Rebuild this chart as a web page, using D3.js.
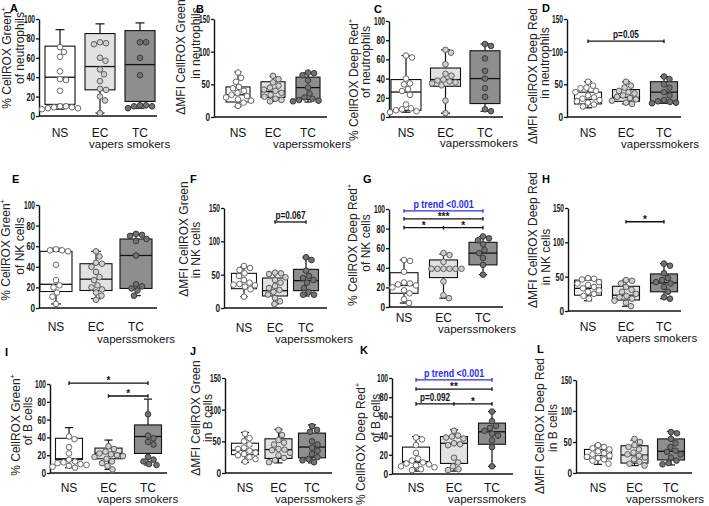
<!DOCTYPE html>
<html><head><meta charset="utf-8">
<script src="https://cdn.jsdelivr.net/npm/d3@7"></script>
<style>body{margin:0;background:#fff}svg{display:block}</style>
</head><body>
<svg id="c" width="709" height="506"></svg>
<script>
// ---------- DATA ----------
const categories = ["NS", "EC", "TC"];
const ticksPct = [0, 20, 40, 60, 80, 100];
const ticksMfi = [0, 50, 100, 150];

// box stats per group: [whiskerMin, q1, median, q3, whiskerMax]
const boxA = [[7,12,40,72,89],[3,27,51,85,95],[8,15,53,88,96]];
const boxB = [[16,23,34,46,69],[24,30,39,54,62],[23,27,45,61,68]];
const boxC = [[5,7,26,39,64],[4,32,39,51,70],[6,14,40,69,76]];
const boxD = [[14,20,27,38,54],[20,24,30,42,54],[21,23,38,54,62]];
const boxE = [[4,16,23,55,58],[9,17,28,43,55],[12,19,51,67,72]];
const boxF = [[17,29,35,52,62],[6,18,26,45,52],[18,26,41,58,76]];
const boxG = [[4,14,22,35,48],[9,30,39,48,54],[33,43,55,66,72]];
const boxH = [[15,23,33,45,48],[7,16,23,36,45],[18,28,41,54,69]];
const boxI = [[6,15,16,39,51],[4,16,22,28,37],[9,22,41,54,83]];
const boxJ = [[17,29,36,47,64],[16,23,37,54,69],[16,24,41,63,76]];
const boxK = [[3,12,13,28,39],[3,11,32,39,46],[8,31,44,53,65]];
const boxL = [[14,23,28,38,45],[12,16,29,44,53],[13,21,35,55,67]];

// individual subjects per group [NS, EC, TC]
const ptsA = [[71,66,61,46,38,37,26,10,10,9,9,8,8,7],[76,75,74,60,57,48,43,36,28,27,20,16,3],[76,76,60,42,11,11,10,10,8]];
const ptsB = [[68,60,54,46,44,40,37,34,32,30,27,25,22,17],[63,58,53,48,45,42,40,37,34,31,28,26,24],[68,67,64,56,45,36,30,28,26,25,24]];
const ptsC = [[64,62,40,35,34,29,27,23,13,9,8,7,6,5],[70,67,55,45,43,39,38,37,36,35,33,17,4],[76,74,61,48,40,30,21,8,6]];
const ptsD = [[54,48,45,44,40,38,33,30,28,26,24,22,19,16],[54,48,45,40,38,36,33,31,29,27,25,22,20],[62,58,50,45,38,33,26,24,23,22,21]];
const ptsE = [[57,56,56,55,42,27,22,20,15,11,4],[55,50,44,43,40,35,30,27,22,20,18,15,12,8],[72,71,70,67,65,51,23,21,19,17,12]];
const ptsF = [[63,60,57,52,48,42,38,36,35,34,32,28,17],[53,52,51,46,42,38,33,30,27,24,20,15,10,6],[76,72,56,48,45,42,38,30,24,20,20]];
const ptsG = [[48,47,36,25,24,23,22,20,17,14,8,4],[55,53,46,39,39,39,39,39,39,26,12,9],[72,70,68,64,58,55,50,43,33]];
const ptsH = [[48,47,46,42,40,38,35,33,30,28,25,22,18],[45,44,40,35,31,28,25,22,20,18,15,12,7],[69,66,55,48,45,42,40,35,28,20,18]];
const ptsI = [[41,38,29,22,15,13,12,11,10,9,8,7,6],[30,27,24,22,21,20,19,18,16,13,11,8,4],[66,42,39,35,32,18,15,13,10,9]];
const ptsJ = [[62,55,50,45,40,38,35,32,30,28,25,22,18],[68,60,52,48,45,38,37,36,32,28,24,20,17],[74,68,65,50,45,40,35,30,25,22,20,17]];
const ptsK = [[38,36,30,22,16,14,12,11,10,9,8,7,5,4],[45,40,39,38,37,32,31,30,17,12,8,5,4],[65,55,50,48,45,42,40,35,28,8]];
const ptsL = [[45,42,40,38,35,32,30,28,26,24,22,20,15],[55,50,45,42,38,33,30,28,25,22,18,15,12],[66,64,55,48,42,36,34,30,25,20,16,14]];

// axis titles: [line1, superscript, line2]
const labelA = ["% CellROX Green", "+", "of neutrophils"];
const labelB = ["\u0394MFI CellROX Green", "", "in neutrophils"];
const labelC = ["% CellROX Deep Red", "+", "of neutrophils"];
const labelD = ["\u0394MFI CellROX Deep Red", "", "in neutrophils"];
const labelE = ["% CellROX Green", "+", "of NK cells"];
const labelF = ["\u0394MFI CellROX Green", "", "in NK cells"];
const labelG = ["% CellROX Deep Red", "+", "of NK cells"];
const labelH = ["\u0394MFI CellROX Deep Red", "", "in NK cells"];
const labelI = ["% CellROX Green", "+", "of B cells"];
const labelJ = ["\u0394MFI CellROX Green", "", "in B cells"];
const labelK = ["% CellROX Deep Red", "+", "of B cells"];
const labelL = ["\u0394MFI CellROX Deep Red", "", "in B cells"];

// significance annotations: [fromGroup, toGroup, level (axis units), text(s), midGroup, kind]
const sigD = [[0,2,116,["p=0.05"]]];
const sigF = [[1,2,129,["p=0.067"]]];
const sigG = [[0,2,98,["p trend <0.001"],null,"trend"],[0,2,90,["***"]],[0,2,81,["*","*"],1]];
const sigH = [[1,2,130,["*"]]];
const sigI = [[0,2,101,["*"]],[1,2,86.5,["*"]]];
const sigK = [[0,2,98,["p trend <0.001"],null,"trend"],[0,2,88.5,["**"]],[0,2,73,["p=0.092","*"],1]];

const subA = "vapers smokers", subB = "vaperssmokers";

// ---------- LAYOUT (positions only) ----------
const panels = [
 {id:"A",box:boxA,pts:ptsA,ticks:ticksPct,label:labelA,sig:[],sub:subA,
  L:[10,12],ax:39,axEnd:157,yTop:19,yBot:116,c:[60,140],bw:30,catY:137,subX:89,subY:148,yl:[[6.5,58],[20,48]]},
 {id:"B",box:boxB,pts:ptsB,ticks:ticksMfi,label:labelB,sig:[],sub:subB,
  L:[196,13],ax:214,axEnd:327,yTop:19,yBot:117,c:[238,308],bw:24,catY:137,subX:273,subY:148,yl:[[181,57],[196,43]]},
 {id:"C",box:boxC,pts:ptsC,ticks:ticksPct,label:labelC,sig:[],sub:subB,
  L:[374,13],ax:389,axEnd:503,yTop:21,yBot:117,c:[406,485],bw:30,catY:137,subX:440,subY:147,yl:[[353.5,80],[366,62]]},
 {id:"D",box:boxD,pts:ptsD,ticks:ticksMfi,label:labelD,sig:sigD,sub:subB,
  L:[542,12],ax:567,axEnd:681,yTop:19,yBot:117,c:[588,664],bw:27,catY:137,subX:621,subY:148,yl:[[533,76],[545,63]]},
 {id:"E",box:boxE,pts:ptsE,ticks:ticksPct,label:labelE,sig:[],sub:subB,
  L:[12,183],ax:39,axEnd:157,yTop:205,yBot:308,c:[56,136],bw:32,catY:331,subX:97,subY:343,yl:[[6,250],[20,246]]},
 {id:"F",box:boxF,pts:ptsF,ticks:ticksMfi,label:labelF,sig:sigF,sub:subB,
  L:[190,183],ax:224,axEnd:327,yTop:208,yBot:308,c:[244,306],bw:25,catY:332,subX:275,subY:343,yl:[[184,239],[196,250]]},
 {id:"G",box:boxG,pts:ptsG,ticks:ticksPct,label:labelG,sig:sigG,sub:subB,
  L:[363,183],ax:389,axEnd:503,yTop:209,yBot:307,c:[404,483],bw:28,catY:322,subX:438,subY:333,yl:[[353,245],[366,243]]},
 {id:"H",box:boxH,pts:ptsH,ticks:ticksMfi,label:labelH,sig:sigH,sub:subA,
  L:[542,183],ax:568,axEnd:681,yTop:208,yBot:311,c:[588,664],bw:27,catY:331,subX:616,subY:342,yl:[[533,240],[546,257]]},
 {id:"I",box:boxI,pts:ptsI,ticks:ticksPct,label:labelI,sig:sigI,sub:subA,
  L:[5,356],ax:50,axEnd:167,yTop:384,yBot:473,c:[69,148],bw:27,catY:492,subX:97,subY:503,yl:[[16,425],[28,421]]},
 {id:"J",box:boxJ,pts:ptsJ,ticks:ticksMfi,label:labelJ,sig:[],sub:subB,
  L:[190,355],ax:225,axEnd:332,yTop:378,yBot:473,c:[245,312],bw:27,catY:492,subX:275,subY:503,yl:[[196,418],[208,418]]},
 {id:"K",box:boxK,pts:ptsK,ticks:ticksPct,label:labelK,sig:sigK,sub:subB,
  L:[360,354],ax:392,axEnd:513,yTop:378,yBot:474,c:[416,492],bw:27,catY:492,subX:448,subY:503,yl:[[361,444],[376,418]]},
 {id:"L",box:boxL,pts:ptsL,ticks:ticksMfi,label:labelL,sig:[],sub:subB,
  L:[537,353],ax:576,axEnd:692,yTop:380,yBot:473,c:[598,671],bw:27,catY:492,subX:626,subY:503,yl:[[540,426],[553,428]]}
];

const boxFill = ["#ffffff", "#e2e2e2", "#8e8e8e"];
const ptFill = ["#ffffff", "#d0d0d0", "#727272"];
const ptStroke = ["#6a6a6a", "#5e5e5e", "#3a3a3a"];
const R = 2.8;
const FONT = "'Liberation Sans', Arial, sans-serif";
const NARROW = "'Liberation Sans Narrow', 'Liberation Sans', Arial, sans-serif";

const svg = d3.select("#c");

function swarm(vals, y, cx) {
  const placed = [];
  const order = vals.map((v, i) => ({v, i})).sort((a, b) => b.v - a.v);
  const res = new Array(vals.length);
  const minD = 2 * R + 0.4;
  for (const p of order) {
    const py = y(p.v);
    let chosen = cx;
    for (let k = 0; k < 200; k++) {
      const off = (k % 2 ? 1 : -1) * Math.ceil(k / 2) * 0.5;
      const px = cx + off;
      if (placed.every(q => Math.hypot(q.x - px, q.y - py) >= minD)) { chosen = px; break; }
    }
    placed.push({x: chosen, y: py});
    res[p.i] = {x: chosen, y: py, v: p.v};
  }
  return res;
}

panels.forEach(P => {
  const g = svg.append("g");
  const maxV = d3.max(P.ticks);
  const y = d3.scaleLinear().domain([0, maxV]).range([P.yBot, P.yTop]);
  const x = d3.scalePoint().domain(categories).range(P.c);

  g.append("text").attr("x", P.L[0]).attr("y", P.L[1]).text(P.id)
    .attr("font-family", FONT).attr("font-weight", "bold").attr("font-size", 11);

  const ya = d3.axisLeft(y).tickValues(P.ticks).tickSize(3).tickSizeOuter(0).tickPadding(1);
  const yg = g.append("g").attr("transform", `translate(${P.ax},0)`).call(ya);
  yg.select(".domain").attr("stroke", "#111").attr("stroke-width", 1.4);
  yg.selectAll(".tick line").attr("stroke", "#111").attr("stroke-width", 1.3);
  yg.selectAll(".tick text").attr("font-family", NARROW).attr("font-weight", "bold")
    .attr("font-size", 11).attr("fill", "#111")
    .attr("textLength", d => ({1: 4.6, 2: 8.4, 3: 11})[String(d).length])
    .attr("lengthAdjust", "spacingAndGlyphs");

  g.append("line").attr("x1", P.ax).attr("x2", P.axEnd).attr("y1", P.yBot).attr("y2", P.yBot)
    .attr("stroke", "#111").attr("stroke-width", 1.4);

  categories.forEach(cat => {
    g.append("text").attr("x", x(cat)).attr("y", P.catY).attr("text-anchor", "middle")
      .attr("font-family", FONT).attr("font-size", 12).attr("fill", "#111").text(cat);
  });
  g.append("text").attr("x", P.subX).attr("y", P.subY)
    .attr("font-family", FONT).attr("font-size", 11.5).attr("fill", "#111").text(P.sub);

  const t1 = g.append("text").attr("transform", `translate(${P.yl[0][0]},${P.yl[0][1]}) rotate(-90)`)
    .attr("text-anchor", "middle").attr("dominant-baseline", "central")
    .attr("font-family", FONT).attr("font-size", 12).attr("fill", "#222");
  t1.append("tspan").text(P.label[0]);
  if (P.label[1]) t1.append("tspan").attr("baseline-shift", "super").attr("font-size", 7).text(P.label[1]);
  g.append("text").attr("transform", `translate(${P.yl[1][0]},${P.yl[1][1]}) rotate(-90)`)
    .attr("text-anchor", "middle").attr("dominant-baseline", "central")
    .attr("font-family", FONT).attr("font-size", 12).attr("fill", "#222").text(P.label[2]);

  categories.forEach((cat, gi) => {
    const b = P.box[gi];
    const cx = x(cat), hw = P.bw / 2, cap = Math.max(3.5, P.bw * 0.15);
    const bg = g.append("g");
    bg.append("line").attr("x1", cx).attr("x2", cx).attr("y1", y(b[4])).attr("y2", y(b[3])).attr("stroke", "#111").attr("stroke-width", 1.2);
    bg.append("line").attr("x1", cx).attr("x2", cx).attr("y1", y(b[1])).attr("y2", y(b[0])).attr("stroke", "#111").attr("stroke-width", 1.2);
    bg.append("line").attr("x1", cx - cap).attr("x2", cx + cap).attr("y1", y(b[4])).attr("y2", y(b[4])).attr("stroke", "#111").attr("stroke-width", 1.2);
    bg.append("line").attr("x1", cx - cap).attr("x2", cx + cap).attr("y1", y(b[0])).attr("y2", y(b[0])).attr("stroke", "#111").attr("stroke-width", 1.2);
    bg.append("rect").attr("x", cx - hw).attr("width", P.bw).attr("y", y(b[3])).attr("height", y(b[1]) - y(b[3]))
      .attr("fill", boxFill[gi]).attr("stroke", "#111").attr("stroke-width", 1.1);
    bg.append("line").attr("x1", cx - hw).attr("x2", cx + hw).attr("y1", y(b[2])).attr("y2", y(b[2])).attr("stroke", "#111").attr("stroke-width", 1.3);
  });

  categories.forEach((cat, gi) => {
    const pos = swarm(P.pts[gi], y, x(cat));
    g.append("g").selectAll("circle").data(pos).join("circle")
      .attr("cx", d => d.x).attr("cy", d => d.y).attr("r", R)
      .attr("fill", ptFill[gi]).attr("stroke", ptStroke[gi]).attr("stroke-width", 1);
  });

  P.sig.forEach(s => {
    const [a, b, lvl, texts, mid, kind] = s;
    const col = kind === "trend" ? "#2b2bf0" : "#111";
    const yy = y(lvl), xa = x(categories[a]), xb = x(categories[b]);
    g.append("line").attr("x1", xa).attr("x2", xb).attr("y1", yy).attr("y2", yy).attr("stroke", col).attr("stroke-width", 1.3);
    [xa, xb].concat(mid != null ? [x(categories[mid])] : []).forEach(xx => {
      g.append("line").attr("x1", xx).attr("x2", xx).attr("y1", yy - 1.8).attr("y2", yy + 1.8).attr("stroke", col).attr("stroke-width", 1.3);
    });
    const segs = mid != null ? [[xa, x(categories[mid])], [x(categories[mid]), xb]] : [[xa, xb]];
    texts.forEach((t, i) => {
      const isStar = /^\*+$/.test(t);
      const txt = g.append("text").attr("x", (segs[i][0] + segs[i][1]) / 2).attr("y", isStar ? yy + 1 : yy - 3)
        .attr("text-anchor", "middle").attr("font-family", NARROW).attr("font-weight", "bold")
        .attr("font-size", isStar ? 10 : 11.5).attr("fill", col).text(t);
      if (!isStar) txt.attr("textLength", t.length * 4.3).attr("lengthAdjust", "spacingAndGlyphs");
    });
  });
});
</script>
</body></html>
